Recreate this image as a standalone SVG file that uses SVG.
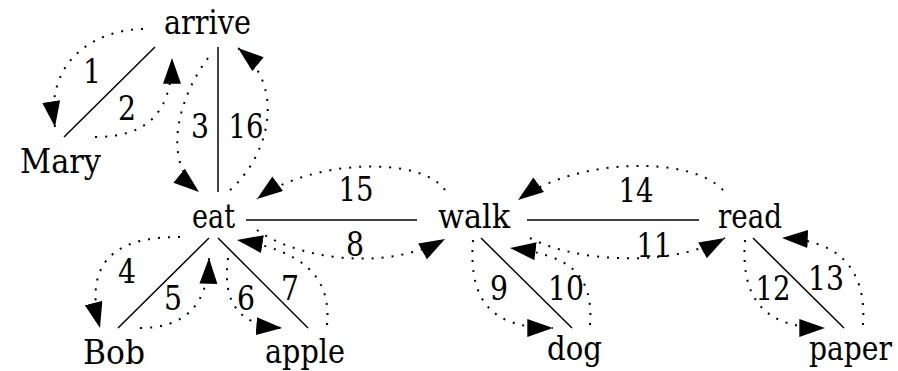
<svg xmlns="http://www.w3.org/2000/svg" width="898" height="371" viewBox="0 0 898 371">
<defs>
<marker id="ah" viewBox="0 0 20 14" refX="20" refY="7" markerWidth="26" markerHeight="18" markerUnits="userSpaceOnUse" orient="auto">
<path d="M0,0 L20,7 L0,14 Z" fill="#000"/>
</marker>
<style>
text{font-family:"DejaVu Serif",serif;font-size:34px;fill:#000}
.lbl{text-anchor:middle}
.solid{stroke:#000;stroke-width:1.5;fill:none}
.dot{stroke:#000;stroke-width:2;fill:none;stroke-dasharray:2 8;marker-end:url(#ah)}
</style>
</defs>
<rect width="898" height="371" fill="#fff"/>
<g id="nodes">
<g id="n-arrive"><text x="164" y="34" textLength="87" lengthAdjust="spacingAndGlyphs">arrive</text></g>
<g id="n-mary"><text x="20" y="173" textLength="81" lengthAdjust="spacingAndGlyphs">Mary</text></g>
<g id="n-eat"><text x="192" y="228" textLength="43" lengthAdjust="spacingAndGlyphs">eat</text></g>
<g id="n-walk"><text x="438" y="228" textLength="72" lengthAdjust="spacingAndGlyphs">walk</text></g>
<g id="n-read"><text x="718" y="228" textLength="64" lengthAdjust="spacingAndGlyphs">read</text></g>
<g id="n-bob"><text x="83" y="364" textLength="62" lengthAdjust="spacingAndGlyphs">Bob</text></g>
<g id="n-apple"><text x="265" y="363" textLength="80" lengthAdjust="spacingAndGlyphs">apple</text></g>
<g id="n-dog"><text x="547" y="360" textLength="55" lengthAdjust="spacingAndGlyphs">dog</text></g>
<g id="n-paper"><text x="809" y="360" textLength="83" lengthAdjust="spacingAndGlyphs">paper</text></g>
</g>
<g id="connectors">
<line class="solid" x1="155" y1="47" x2="64" y2="137"/>
<line class="solid" x1="218" y1="47" x2="218" y2="192"/>
<line class="solid" x1="246" y1="220" x2="417" y2="220"/>
<line class="solid" x1="527" y1="220" x2="699" y2="220"/>
<line class="solid" x1="209" y1="238" x2="118" y2="328"/>
<line class="solid" x1="218" y1="238" x2="308" y2="328"/>
<line class="solid" x1="481" y1="238" x2="572" y2="328"/>
<line class="solid" x1="753" y1="238" x2="844" y2="328"/>

<path class="dot" d="M143,29 C95,30 45,60 55,127"/>
<path class="dot" d="M95,137 C145,137 172,115 172,58"/>
<path class="dot" d="M208,58 C180,95 160,160 199,192"/>
<path class="dot" d="M230,190 C265,160 290,90 238,48"/>
<path class="dot" d="M445,190 C420,155 310,160 257,199"/>
<path class="dot" d="M257,230 C290,255 380,275 445,239"/>
<path class="dot" d="M180,237 C130,237 80,250 100,328"/>
<path class="dot" d="M140,328 C185,328 208,305 209,258"/>
<path class="dot" d="M228,258 C222,305 240,325 282,328"/>
<path class="dot" d="M327,325 C332,275 300,250 237,240"/>
<path class="dot" d="M473,240 C468,305 495,328 553,328"/>
<path class="dot" d="M590,325 C594,270 565,255 510,248"/>
<path class="dot" d="M530,238 C575,262 670,268 725,238"/>
<path class="dot" d="M723,190 C690,155 575,158 518,200"/>
<path class="dot" d="M745,240 C740,305 770,328 825,328"/>
<path class="dot" d="M863,325 C867,265 835,240 782,238"/>
</g>
<g id="labels">
<text class="lbl" x="92" y="83" textLength="18" lengthAdjust="spacingAndGlyphs">1</text>
<text class="lbl" x="127" y="120" textLength="18" lengthAdjust="spacingAndGlyphs">2</text>
<text class="lbl" x="200" y="138" textLength="18" lengthAdjust="spacingAndGlyphs">3</text>
<text class="lbl" x="246" y="138" textLength="35" lengthAdjust="spacingAndGlyphs">16</text>
<text class="lbl" x="356" y="201" textLength="35" lengthAdjust="spacingAndGlyphs">15</text>
<text class="lbl" x="355" y="256" textLength="18" lengthAdjust="spacingAndGlyphs">8</text>
<text class="lbl" x="127" y="283" textLength="18" lengthAdjust="spacingAndGlyphs">4</text>
<text class="lbl" x="173" y="310" textLength="18" lengthAdjust="spacingAndGlyphs">5</text>
<text class="lbl" x="246" y="310" textLength="18" lengthAdjust="spacingAndGlyphs">6</text>
<text class="lbl" x="290" y="300" textLength="18" lengthAdjust="spacingAndGlyphs">7</text>
<text class="lbl" x="636" y="202" textLength="35" lengthAdjust="spacingAndGlyphs">14</text>
<text class="lbl" x="654" y="257" textLength="35" lengthAdjust="spacingAndGlyphs">11</text>
<text class="lbl" x="499" y="300" textLength="18" lengthAdjust="spacingAndGlyphs">9</text>
<text class="lbl" x="566" y="300" textLength="36" lengthAdjust="spacingAndGlyphs">10</text>
<text class="lbl" x="773" y="300" textLength="35" lengthAdjust="spacingAndGlyphs">12</text>
<text class="lbl" x="826" y="290" textLength="36" lengthAdjust="spacingAndGlyphs">13</text>
</g>
</svg>
